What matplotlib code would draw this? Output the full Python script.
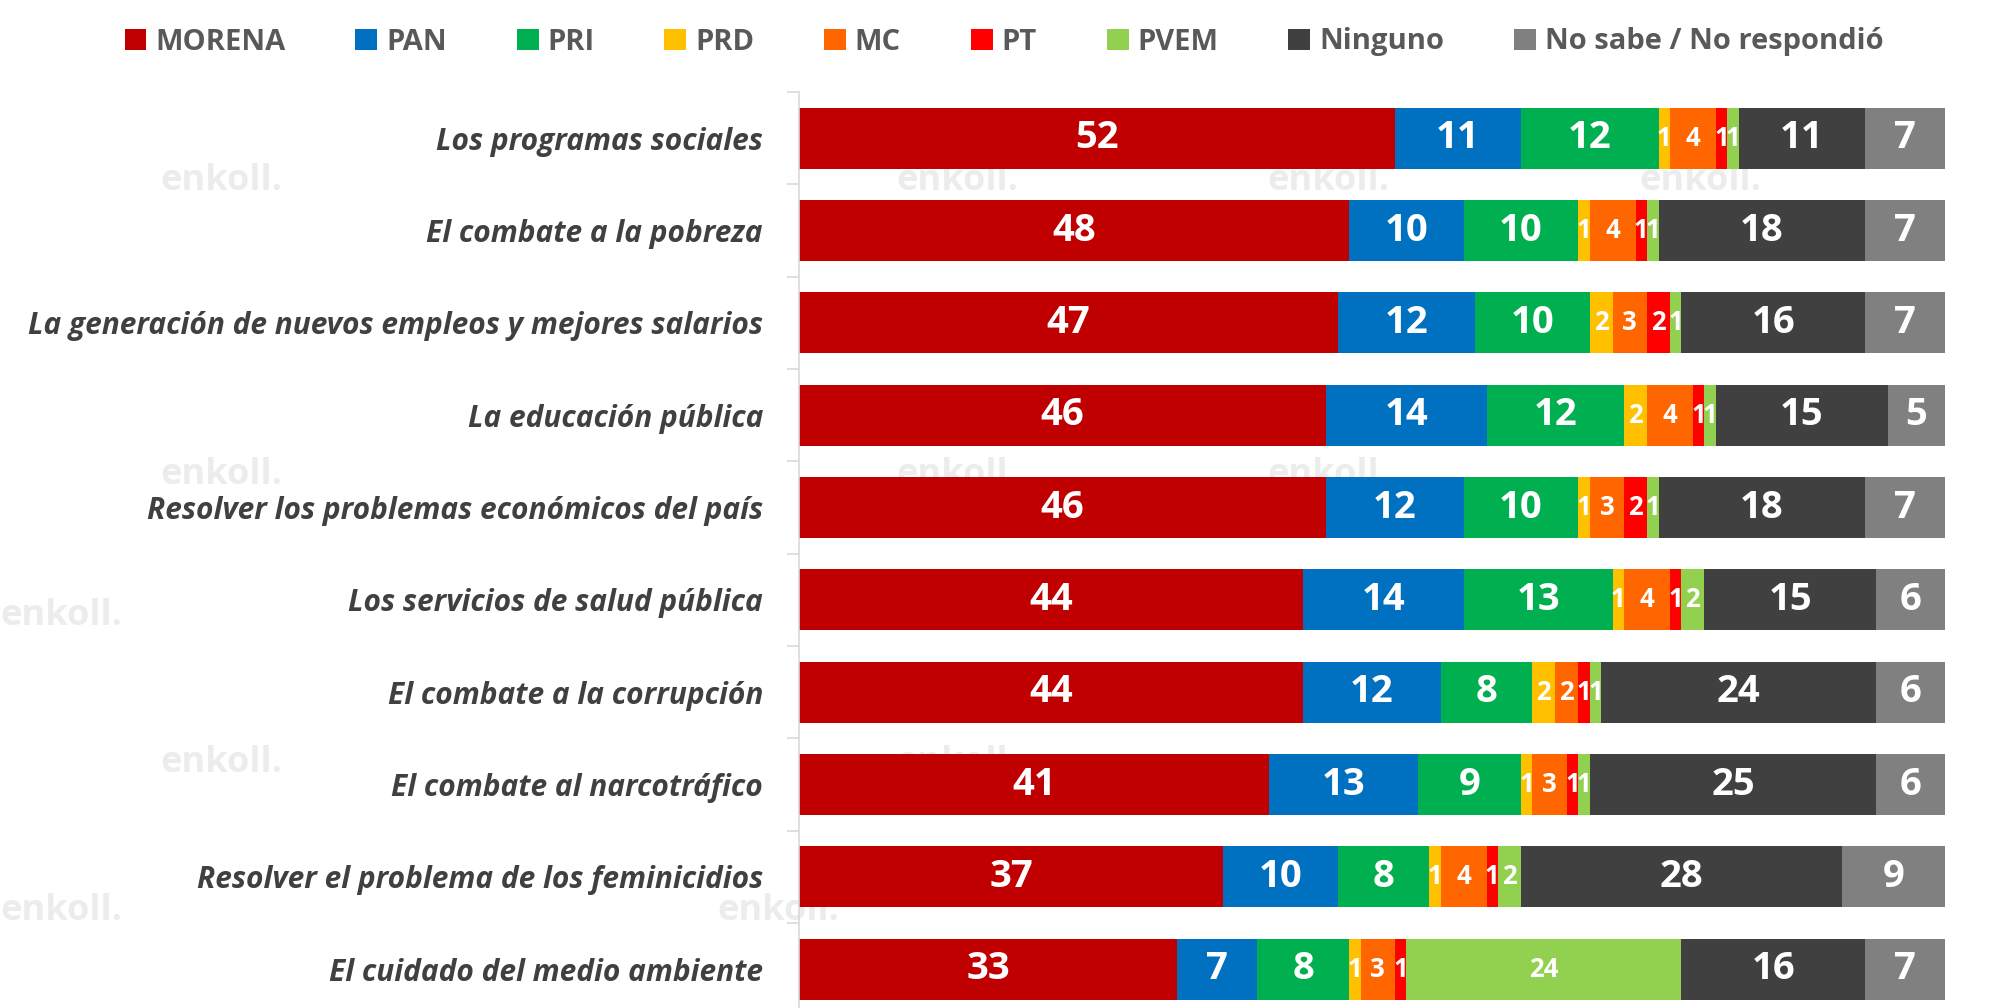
import matplotlib
matplotlib.use("Agg")
import matplotlib.pyplot as plt
import numpy as np

categories = [
    "Los programas sociales",
    "El combate a la pobreza",
    "La generación de nuevos empleos y mejores salarios",
    "La educación pública",
    "Resolver los problemas económicos del país",
    "Los servicios de salud pública",
    "El combate a la corrupción",
    "El combate al narcotráfico",
    "Resolver el problema de los feminicidios",
    "El cuidado del medio ambiente",
]
series_names = ["MORENA", "PAN", "PRI", "PRD", "MC", "PT", "PVEM", "Ninguno", "No sabe / No respondió"]
morena  = [52, 48, 47, 46, 46, 44, 44, 41, 37, 33]
pan     = [11, 10, 12, 14, 12, 14, 12, 13, 10, 7]
pri     = [12, 10, 10, 12, 10, 13, 8, 9, 8, 8]
prd     = [1, 1, 2, 2, 1, 1, 2, 1, 1, 1]
mc      = [4, 4, 3, 4, 3, 4, 2, 3, 4, 3]
pt      = [1, 1, 2, 1, 2, 1, 1, 1, 1, 1]
pvem    = [1, 1, 1, 1, 1, 2, 1, 1, 2, 24]
ninguno = [11, 18, 16, 15, 18, 15, 24, 25, 28, 16]
nsnr    = [7, 7, 7, 5, 7, 6, 6, 6, 9, 7]

colors = ["#C00000", "#0070C0", "#00B050", "#FFC000", "#FF6600", "#FF0000", "#92D050", "#404040", "#808080"]
big = [True, True, True, False, False, False, False, True, True]

data = [morena, pan, pri, prd, mc, pt, pvem, ninguno, nsnr]

fig = plt.figure(figsize=(20.08, 10.08), dpi=100)
ax = fig.add_axes([799/2008, 0, (1945-799)/2008, (1008-92)/1008])

# faint watermark text (behind everything)
wm = [(125, 140), (700, 140), (990, 140), (1280, 140),
      (125, 370), (700, 370), (990, 370), (0, 480), (125, 595), (700, 595),
      (0, 710), (560, 710)]
for (x, y) in wm:
    fig.text(x/1568, 1 - (y+8)/787, "enkoll.", fontsize=26, fontweight="bold",
             color="#ececec", family="Open Sans", zorder=-5)

y = np.arange(len(categories))
left = np.zeros(len(categories))
for name, vals, col, isbig in zip(series_names, data, colors, big):
    vals = np.array(vals, dtype=float)
    ax.barh(y, vals, left=left, height=0.66, color=col, label=name, zorder=2)
    for yi, (l, v) in enumerate(zip(left, vals)):
        if v > 0:
            ax.text(l + v/2, yi, f"{int(v)}", ha="center", va="center", color="white",
                    fontsize=(27.5 if isbig else 18.5), fontweight="bold", family="Open Sans", zorder=3)
    left += vals

ax.set_xlim(0, 100)
ax.set_ylim(9.42, -0.5)
ax.set_yticks(y)
ax.set_yticklabels(categories, fontsize=21.5, fontweight="bold", style="italic",
                   color="#404040", family="Open Sans")
ax.tick_params(axis="y", which="major", length=0, pad=26)
ax.set_yticks(np.arange(-0.5, 9.5, 1), minor=True)
ax.tick_params(axis="y", which="minor", length=9, color="#d9d9d9", width=1.2)
ax.set_xticks([])
for s in ["top", "right", "bottom"]:
    ax.spines[s].set_visible(False)
ax.spines["left"].set_color("#d9d9d9")
ax.spines["left"].set_linewidth(1.2)
ax.patch.set_alpha(0)

handles, labels = ax.get_legend_handles_labels()
leg = fig.legend(handles, labels, loc="center", bbox_to_anchor=(0.5, 1 - 42/1008), ncol=9,
                 frameon=False, handlelength=0.75, handleheight=0.75, handletextpad=0.3,
                 columnspacing=2.4, prop={"family": "Open Sans", "weight": "bold", "size": 21})
for t in leg.get_texts():
    t.set_color("#595959")

fig.savefig("out.png", dpi=100, facecolor="white")
